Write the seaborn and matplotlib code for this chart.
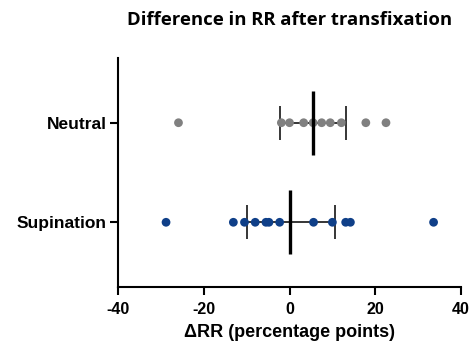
import pandas as pd
import seaborn as sns
import matplotlib.pyplot as plt

groups = ["Neutral", "Supination"]
neutral = [-25.9, -1.9, 0.0, 3.3, 5.5, 7.5, 9.5, 12.1, 17.8, 22.5]
supination = [-28.8, -13.1, -10.5, -8.0, -5.5, -4.8, -2.3, 5.6, 10.0, 13.1, 14.2, 33.6]
# median and interquartile range
medians = [5.4, 0.2]
q_low = [-2.2, -10.0]
q_high = [13.2, 10.5]
colors = ["#808080", "#0f3f88"]

df = pd.DataFrame({
    "group": ["Neutral"] * len(neutral) + ["Supination"] * len(supination),
    "drr": neutral + supination,
})

sns.set_style("ticks")
plt.rcParams['font.family'] = ['Liberation Sans', 'DejaVu Sans']
plt.rcParams['axes.unicode_minus'] = False

fig = plt.figure(figsize=(4.74, 3.48), dpi=100)
ax = fig.add_axes([0.249, 0.1753, 0.7236, 0.658])

sns.stripplot(data=df, x="drr", y="group", hue="group", order=groups,
              palette=colors, jitter=False, size=6.3, linewidth=0,
              legend=False, ax=ax, zorder=3)

for i in range(len(groups)):
    ax.hlines(i, q_low[i], q_high[i], color="black", lw=1.1, zorder=2)
    ax.vlines([q_low[i], q_high[i]], i - 0.17, i + 0.17, color="black", lw=1.1, zorder=2)
    ax.vlines(medians[i], i - 0.32, i + 0.32, color="black", lw=2.4, zorder=4)

ax.set_xlim(-40, 40)
ax.set_ylim(1.65, -0.65)
ax.set_xticks([-40, -20, 0, 20, 40])
ax.set_xlabel("ΔRR (percentage points)", fontsize=13, fontweight="bold",
              color="black", labelpad=5)
ax.set_ylabel("")
ax.set_title("Difference in RR after transfixation", fontsize=13.3,
             fontweight="bold", color="black", pad=24,
             family=['Open Sans', 'DejaVu Sans'])

for lab in ax.get_xticklabels():
    lab.set_fontweight("bold")
    lab.set_fontsize(11.5)
for lab in ax.get_yticklabels():
    lab.set_fontweight("bold")
    lab.set_fontsize(12.5)

sns.despine(ax=ax)
for s in ["left", "bottom"]:
    ax.spines[s].set_linewidth(1.5)
    ax.spines[s].set_color("black")
ax.tick_params(width=1.5, length=6, pad=2, color="black", labelcolor="black")
ax.tick_params(axis="x", pad=5)

fig.savefig("out.png", dpi=100)
